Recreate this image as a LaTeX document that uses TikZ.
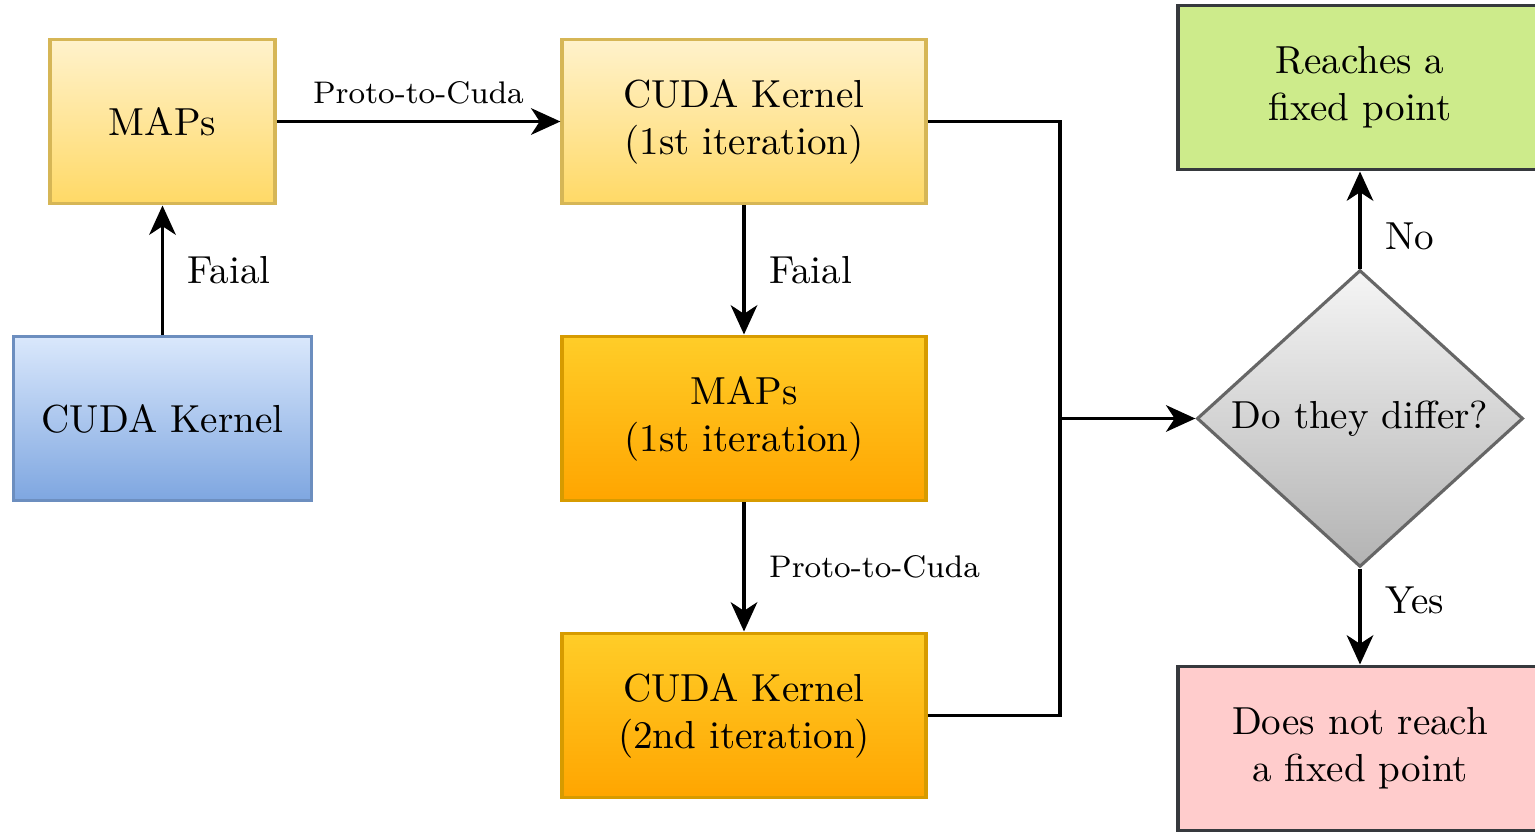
\documentclass[tikz,border=0pt]{standalone}
\usepackage{tikz}
\usetikzlibrary{arrows.meta,positioning,shapes.geometric,calc}
\definecolor{ylTop}{HTML}{FFF2CC}
\definecolor{ylBot}{HTML}{FFD966}
\definecolor{ylDraw}{HTML}{D6B656}
\definecolor{orTop}{HTML}{FFCD28}
\definecolor{orBot}{HTML}{FFA500}
\definecolor{orDraw}{HTML}{D79B00}
\definecolor{blTop}{HTML}{DAE8FC}
\definecolor{blBot}{HTML}{7EA6E0}
\definecolor{blDraw}{HTML}{6C8EBF}
\definecolor{gyTop}{HTML}{F5F5F5}
\definecolor{gyBot}{HTML}{B3B3B3}
\definecolor{gyDraw}{HTML}{666666}
\definecolor{okGreen}{HTML}{CDEB8B}
\definecolor{okPink}{HTML}{FFCCCC}
\definecolor{endDraw}{HTML}{36393D}
\tikzset{
  % Base box: one size for every step of the flow.
  fp/box/.style={
    draw, line width=0.8pt, inner sep=2pt, align=center,
    minimum height=42.2pt, text=black
  },
  % Starting inputs and the first pass.
  fp/yel/.style={fp/box, draw=ylDraw, top color=ylTop, bottom color=ylBot},
  % Second pass, a shade darker.
  fp/org/.style={fp/box, draw=orDraw, top color=orTop, bottom color=orBot},
  % The kernel we start from.
  fp/src/.style={fp/box, draw=blDraw, top color=blTop, bottom color=blBot},
  % Outcomes.
  fp/ok/.style={fp/box, draw=endDraw, fill=okGreen},
  fp/bad/.style={fp/box, draw=endDraw, fill=okPink},
  % The check.
  fp/gate/.style={
    draw=gyDraw, line width=0.8pt, diamond, aspect=1.1, inner sep=0pt,
    top color=gyTop, bottom color=gyBot,
    minimum width=83.5pt, minimum height=76pt
  },
  % Connectors.
  fp/line/.style={line width=0.9pt, draw=black},
  fp/arrow/.style={
    fp/line, -{Stealth[length=7.5pt,width=6.8pt,inset=2.2pt]}
  },
  fp/label/.style={text=black, inner sep=2pt},
}
\begin{document}
\begin{tikzpicture}[x=0.256pt,y=-0.256pt]
  \useasboundingbox (0,0) rectangle (1535,833);
  \node[fp/yel, minimum width=57.6pt] (maps)  at (162.5,121.5) {MAPs};
  \node[fp/src, minimum width=76.5pt] (cuda)  at (162.5,418.5) {CUDA Kernel};
  \node[fp/yel, minimum width=93.2pt] (cudaA) at (744,121.5) {CUDA Kernel\\(1st iteration)};
  \node[fp/org, minimum width=93.2pt] (mapsA) at (744,418.5) {MAPs\\(1st iteration)};
  \node[fp/org, minimum width=93.2pt] (cudaB) at (744,715.5) {CUDA Kernel\\(2nd iteration)};
  \node[fp/gate] (diff) at (1360,418.5) {Do they differ?};
  \node[fp/ok,  minimum width=93.2pt] (fixd)  at (1360,87.5) {Reaches a\\fixed point};
  \node[fp/bad, minimum width=93.2pt] (nofix) at (1360,748.5) {Does not reach\\a fixed point};
  \coordinate (jn) at (1060,418.5);
  \draw[fp/arrow] (cuda) -- node[fp/label, right=4pt]{Faial} (maps);
  \draw[fp/arrow] (maps) -- node[fp/label, above=2pt, font=\footnotesize]{Proto-to-Cuda} (cudaA);
  \draw[fp/arrow] (cudaA) -- node[fp/label, right=4pt]{Faial} (mapsA);
  \draw[fp/arrow] (mapsA) -- node[fp/label, right=4pt, font=\footnotesize]{Proto-to-Cuda} (cudaB);
  \draw[fp/line] (cudaA.east) -| (jn);
  \draw[fp/line] (cudaB.east) -| (jn);
  \draw[fp/arrow] (jn) -- (diff.west);
  \draw[fp/arrow] (diff.north) -- node[fp/label, right=4pt, pos=0.33]{No} (fixd.south);
  \draw[fp/arrow] (diff.south) -- node[fp/label, right=4pt, pos=0.33]{Yes} (nofix.north);
\end{tikzpicture}
\end{document}
